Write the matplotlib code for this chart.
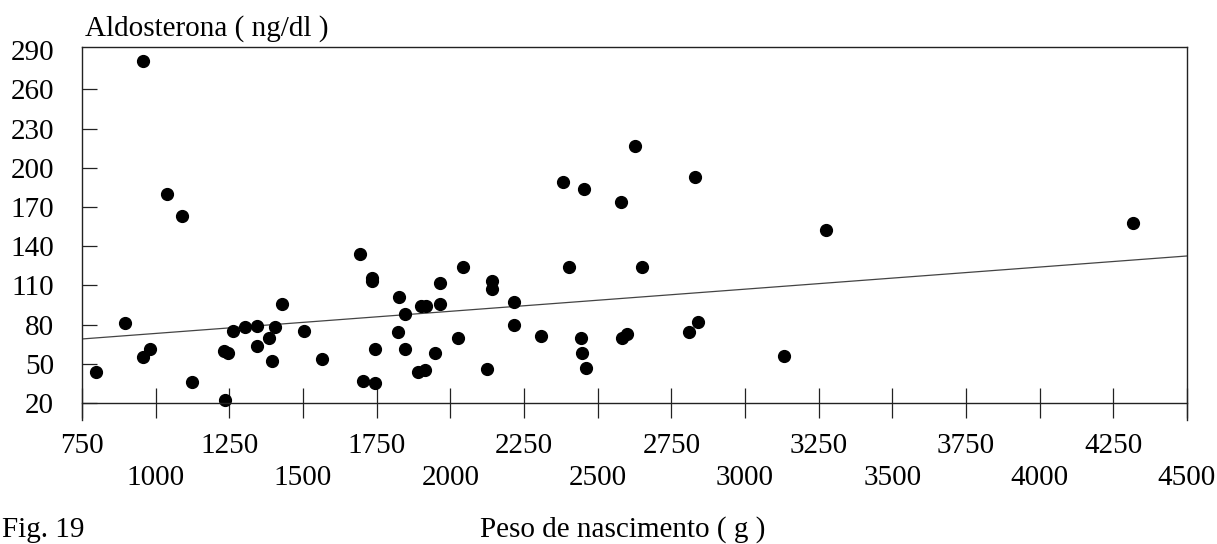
import matplotlib.pyplot as plt

plt.rcParams['font.family'] = ['Liberation Serif', 'DejaVu Serif']

# peso de nascimento (g) e aldosterona (ng/dl)
peso = [796, 896, 958, 981, 958, 1039, 1088, 1122, 1235, 1232, 1246, 1263,
        1303, 1343, 1345, 1386, 1405, 1394, 1428, 1503, 1563, 1693, 1704,
        1744, 1744, 1733, 1733, 1826, 1846, 1823, 1846, 1891, 1914, 1902,
        1919, 1965, 1965, 1948, 2027, 2044, 2125, 2143, 2143, 2216, 2217,
        2306, 2404, 2444, 2447, 2459, 2584, 2598, 2649, 2810, 2842, 3133,
        2383, 2454, 2578, 2627, 2829, 3275, 4317]
aldo = [44, 81, 55, 61, 282, 180, 163, 36, 22, 60, 58, 75,
        78, 79, 64, 70, 78, 52, 96, 75, 54, 134, 37,
        35, 61, 116, 113, 101, 88, 74, 61, 44, 45, 94,
        94, 112, 96, 58, 70, 124, 46, 113, 107, 97, 80,
        71, 124, 70, 58, 47, 70, 73, 124, 74, 82, 56,
        189, 184, 174, 217, 193, 152, 158]

# reta de regressao (extremos)
reta_x = [750, 4500]
reta_y = [69, 132.5]

yticks = list(range(20, 291, 30))
xticks_cima = [750, 1250, 1750, 2250, 2750, 3250, 3750, 4250]
xticks_baixo = [1000, 1500, 2000, 2500, 3000, 3500, 4000, 4500]

fs = 21

fig = plt.figure(figsize=(12.17, 5.44), dpi=100)
ax = fig.add_axes([82 / 1217, 1 - 420 / 544, (1187 - 82) / 1217, (420 - 47) / 544])

ax.plot(reta_x, reta_y, color='#444444', lw=0.9)
ax.plot(peso, aldo, 'o', color='black', ms=8.5, mec='black')

ax.set_xlim(750, 4500)
ax.set_ylim(7, 292.4)

for s in ax.spines.values():
    s.set_color('#222222')
    s.set_linewidth(1.0)
ax.spines['bottom'].set_position(('data', 20))

ax.set_yticks(yticks, labels=[str(v) for v in yticks])
ax.tick_params(axis='y', direction='in', length=11, width=0.9, pad=20,
               labelsize=fs, colors='#222222', labelcolor='black')
ax.yaxis.get_major_ticks()[-1].tick1line.set_visible(False)

ax.set_xticks(xticks_cima, labels=[str(v) for v in xticks_cima])
ax.set_xticks(xticks_baixo, labels=[str(v) for v in xticks_baixo], minor=True)
ax.tick_params(axis='x', which='major', direction='inout', length=21.6, width=0.9,
               pad=11, labelsize=fs, colors='#222222', labelcolor='black')
ax.tick_params(axis='x', which='minor', direction='inout', length=21.6, width=0.9,
               pad=34, labelsize=fs, colors='#222222', labelcolor='black')

fig.text(85 / 1217, 1 - 36 / 544, 'Aldosterona ( ng/dl )', fontsize=fs, va='baseline')
fig.text(623 / 1217, 1 - 537 / 544, 'Peso de nascimento ( g )', fontsize=fs,
         ha='center', va='baseline')
fig.text(2 / 1217, 1 / 544, 'Fig. 19', fontsize=fs, va='bottom')

fig.savefig('out.png', dpi=100, facecolor='white')
